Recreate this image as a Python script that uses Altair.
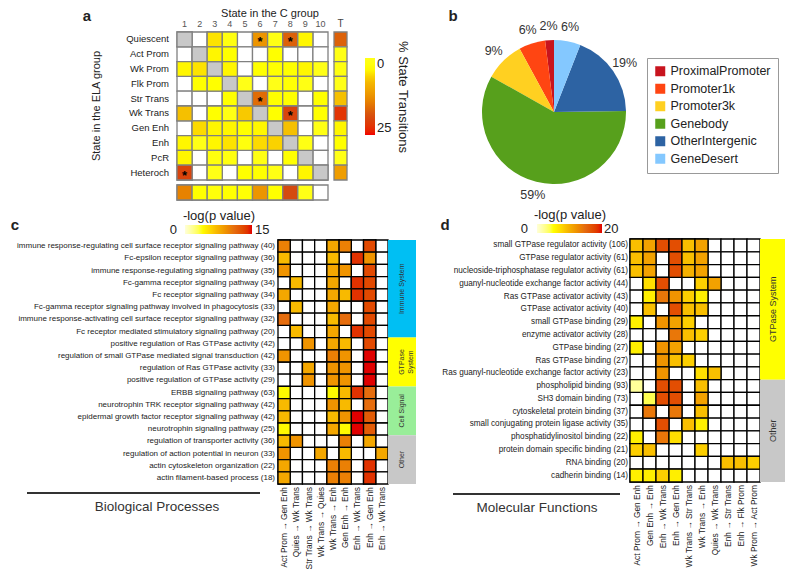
import altair as alt
import pandas as pd

FONT = "Liberation Sans"

# ---------------- Panel a : state transitions ----------------
a_rows = ["Quiescent", "Act Prom", "Wk Prom", "Flk Prom", "Str Trans",
          "Wk Trans", "Gen Enh", "Enh", "PcR", "Heteroch"]
a_cols = [str(i) for i in range(1, 11)]
a_vals = [
    [None, None, 5, 1.5, None, 12, 1, 17, 4, None],
    [None, None, 4, 3.5, None, None, 3.5, None, None, None],
    [4, 5, None, 4, None, 3.5, 3.5, 3.5, 4, 0.5],
    [None, 3.5, 3.5, None, 0.4, None, 0.4, 3, 1, None],
    [None, None, None, 3.5, None, 16, 3.5, 3.5, None, 3.5],
    [7, None, 3.5, 1, 6.5, None, 3.5, 20, None, 3.5],
    [None, 5.5, 4, 4, 3.5, 4, None, 7, None, 1],
    [4, 0.5, 4, 5, 2, 5.5, 6, None, 1, None],
    [4, None, 2, 1.5, None, 1, None, 3.5, None, None],
    [20, None, 0.5, None, 3.5, 3.5, 1, None, 4, None],
]
a_total = [17, 1, 1.5, 0.3, 7, 22, 4, 3.5, 0.5, 11]
a_bottom = [14, 3.5, 2.5, 3.5, 3, 12, 3.5, 19, 0.5, None]
a_stars = [("Quiescent", "6"), ("Quiescent", "8"), ("Str Trans", "6"),
           ("Wk Trans", "8"), ("Heteroch", "1")]

# ---------------- Panel b : pie ----------------
pie_cats = ["ProximalPromoter", "Promoter1k", "Promoter3k", "Genebody",
            "OtherIntergenic", "GeneDesert"]
pie_pct = [2, 6, 9, 59, 19, 6]
pie_colors = ["#c8141e", "#ff4512", "#ffd021", "#57a01c", "#2d63a3", "#84c8ff"]

# ---------------- Panel c : biological processes ----------------
c_names = [
    "immune response-regulating cell surface receptor signaling pathway",
    "Fc-epsilon receptor signaling pathway",
    "immune response-regulating signaling pathway",
    "Fc-gamma receptor signaling pathway",
    "Fc receptor signaling pathway",
    "Fc-gamma receptor signaling pathway involved in phagocytosis",
    "immune response-activating cell surface receptor signaling pathway",
    "Fc receptor mediated stimulatory signaling pathway",
    "positive regulation of Ras GTPase activity",
    "regulation of small GTPase mediated signal transduction",
    "regulation of Ras GTPase activity",
    "positive regulation of GTPase activity",
    "ERBB signaling pathway",
    "neurotrophin TRK receptor signaling pathway",
    "epidermal growth factor receptor signaling pathway",
    "neurotrophin signaling pathway",
    "regulation of transporter activity",
    "regulation of action potential in neuron",
    "actin cytoskeleton organization",
    "actin filament-based process",
]
c_counts = [40, 36, 35, 34, 34, 33, 32, 20, 42, 42, 33, 29, 63, 42, 42, 25, 36, 33, 22, 18]
c_cols = ["Act Prom \u2192 Gen Enh", "Quies \u2192 Wk Trans", "Str Trans \u2192 Wk Trans",
          "Wk Trans \u2192 Quies", "Wk Trans \u2192 Enh", "Gen Enh \u2192 Enh",
          "Enh \u2192 Wk Trans", "Enh \u2192 Gen Enh", "Enh \u2192 Wk Trans"]
c_vals = [
    [10, None, None, None, 8, 10, None, 13, None],
    [7, None, None, None, 7, None, 14, 9, None],
    [9, None, None, None, 8, 9, None, 13, None],
    [None, 7, None, None, 8, None, 14, 13, None],
    [8, None, None, None, 8, 7, 14, 13, None],
    [None, 7, None, None, 8, None, None, 13, None],
    [11, None, None, None, 7, 11, None, 13, None],
    [None, 7, None, None, 8, None, 14, 13, None],
    [None, None, 9, None, 8, 7, None, 13, None],
    [9, None, None, None, 10, 9, None, 15, None],
    [None, None, 8, None, 9, 9, None, 15, None],
    [None, None, 9, None, 9, 9, None, 15, None],
    [4, None, None, None, 4, 7, 14, 11, None],
    [7, None, None, None, 9, 7, None, 11, None],
    [7, None, None, None, 7, 9, 15, 12, None],
    [4, None, None, None, 8, 4, 15, 12, None],
    [7, 9, None, None, None, 10, None, 8, None],
    [9, None, None, 8, None, 7, None, None, 8],
    [8, None, None, None, 10, 10, None, 14, None],
    [8, None, None, None, 10, 10, None, 14, None],
]
c_groups = ["Immune System", "GTPase\nSystem", "Cell Signal", "Other"]
c_group_sizes = [8, 4, 4, 4]
c_group_colors = ["#00bff3", "#ffff00", "#99ee99", "#c8c8c8"]

# ---------------- Panel d : molecular functions ----------------
d_names = [
    "small GTPase regulator activity", "GTPase regulator activity",
    "nucleoside-triphosphatase regulator activity",
    "guanyl-nucleotide exchange factor activity", "Ras GTPase activator activity",
    "GTPase activator activity", "small GTPase binding", "enzyme activator activity",
    "GTPase binding", "Ras GTPase binding",
    "Ras guanyl-nucleotide exchange factor activity", "phospholipid binding",
    "SH3 domain binding", "cytoskeletal protein binding",
    "small conjugating protein ligase activity", "phosphatidylinositol binding",
    "protein domain specific binding", "RNA binding", "cadherin binding",
]
d_counts = [106, 61, 61, 44, 43, 40, 29, 28, 27, 27, 23, 93, 73, 37, 35, 22, 21, 20, 14]
d_cols = ["Act Prom \u2192 Gen Enh", "Gen Enh \u2192 Enh", "Enh \u2192 Wk Trans",
          "Enh \u2192 Gen Enh", "Wk Trans \u2192 Str Trans", "Wk Trans \u2192 Enh",
          "Quies \u2192 Wk Trans", "Enh \u2192 Str Trans", "Enh \u2192 Flk Prom",
          "Wk Prom \u2192 Act Prom"]
d_vals = [
    [9, 11, 17, 17, 9, 11, None, None, None, None],
    [9, 11, None, 17, 9, 11, None, None, None, None],
    [9, 11, None, 17, 10, 11, None, None, None, None],
    [None, 7, 17, None, None, 8, 11, None, None, None],
    [None, 6, 14, 12, 8, 6, None, None, None, None],
    [None, 9, None, 17, 9, 9, None, None, None, None],
    [6, None, 12, 11, 8, None, None, None, None, None],
    [None, None, None, 14, 9, 8, None, None, None, None],
    [6, None, 12, 11, None, None, None, None, None, None],
    [None, None, 12, 9, 8, None, None, None, None, None],
    [None, None, 12, None, None, 7, 9, None, None, None],
    [2, None, 17, 17, None, 9, None, None, None, None],
    [None, 4, 17, 17, None, 11, None, None, None, None],
    [None, 14, None, 14, None, 9, None, None, None, None],
    [None, None, 17, None, 9, 6, None, None, None, None],
    [6, None, 14, 7, None, None, None, None, None, None],
    [8, 9, None, None, None, 8, None, None, None, None],
    [None, None, None, None, None, None, None, 9, 9, 8],
    [6, 6, 8, 6, None, None, None, None, None, None],
]
d_groups = ["GTPase System", "Other"]
d_group_sizes = [11, 8]
d_group_colors = ["#ffff00", "#c8c8c8"]


def band(domain, rng):
    return alt.Scale(domain=domain, range=rng, paddingInner=0, paddingOuter=0)


def txt(s, x, y, size=12, weight="normal", align="center", angle=0, color="#222",
        baseline="middle"):
    kw = dict(fontSize=size, fontWeight=weight, align=align, baseline=baseline,
              color=color, font=FONT)
    if angle:
        kw["angle"] = angle
    return alt.Chart(pd.DataFrame({"t": [s]})).mark_text(**kw).encode(
        text="t:N", x=alt.value(x), y=alt.value(y))


# ======== panel a layers ========
# colour keyed on the negated value so the vertical legend runs 0 (top) -> 25 (bottom)
a_scale = alt.Scale(domain=[-25, -19, -13, -7, -3.5, 0],
                    range=["#f00000", "#d44a10", "#ea8c00", "#f5c000", "#ffff00", "#ffffff"])
a_x = [169, 320]
a_y = [24, 172]
cells = []
for i, r in enumerate(a_rows):
    for j, c in enumerate(a_cols):
        cells.append({"row": r, "col": c, "v": a_vals[i][j], "self": i == j,
                      "star": (r, c) in a_stars})
a_df = pd.DataFrame(cells)
ax = alt.X("col:N", scale=band(a_cols, a_x), axis=None)
ay = alt.Y("row:N", scale=band(a_rows, a_y), axis=None)
a_stroke = dict(stroke="#808080", strokeWidth=1.3)
a_color_legend = alt.Legend(
    orient="none", legendX=357, legendY=50, direction="vertical",
    gradientLength=77, gradientThickness=10, values=[-25, 0],
    labelExpr="'' + abs(datum.value)",
    title="% State Transitions", titleOrient="right", titleFontSize=13,
    titleFontWeight="normal", labelFontSize=13, titleColor="#222", labelColor="#222")
a_main = alt.layer(
    alt.Chart(a_df).mark_rect(fill="white", **a_stroke).encode(x=ax, y=ay),
    alt.Chart(a_df).transform_filter("datum.self").mark_rect(fill="#c8c8c8", **a_stroke).encode(x=ax, y=ay),
    alt.Chart(a_df).transform_filter("isValid(datum.v)").transform_calculate(
        nv="-datum.v").mark_rect(**a_stroke).encode(
        x=ax, y=ay, color=alt.Color("nv:Q", scale=a_scale, legend=a_color_legend)),
    alt.Chart(a_df).transform_filter("datum.star").mark_text(
        text="*", fontSize=13, fontWeight="bold", color="black", dy=3).encode(x=ax, y=ay),
    alt.Chart(pd.DataFrame({"row": a_rows})).mark_text(
        align="right", fontSize=9.5, color="#222", font=FONT).encode(
        y=ay, x=alt.value(161), text="row:N"),
    alt.Chart(pd.DataFrame({"col": a_cols})).mark_text(
        fontSize=9, color="#555", font=FONT).encode(x=ax, y=alt.value(16), text="col:N"),
)
t_df = pd.DataFrame({"row": a_rows, "v": a_total, "k": ["T"] * len(a_rows)})
tx = alt.X("k:N", scale=band(["T"], [326, 339]), axis=None)
a_T = alt.layer(
    alt.Chart(t_df).transform_calculate(nv="-datum.v").mark_rect(**a_stroke).encode(
        x=tx, y=ay, color=alt.Color("nv:Q", scale=a_scale, legend=None)),
    alt.Chart(pd.DataFrame({"k": ["T"]})).mark_text(fontSize=10, color="#444", font=FONT).encode(
        x=tx, y=alt.value(16), text="k:N"),
)
b_df = pd.DataFrame({"col": a_cols, "v": a_bottom, "r": ["all"] * len(a_cols)})
by = alt.Y("r:N", scale=band(["all"], [177, 192]), axis=None)
a_B = alt.layer(
    alt.Chart(b_df).mark_rect(fill="white", **a_stroke).encode(x=ax, y=by),
    alt.Chart(b_df).transform_filter("isValid(datum.v)").transform_calculate(
        nv="-datum.v").mark_rect(**a_stroke).encode(
        x=ax, y=by, color=alt.Color("nv:Q", scale=a_scale, legend=None)),
)

# ======== panel b ========
pie_df = pd.DataFrame({"cat": pie_cats, "pct": pie_pct,
                       "ord": list(range(len(pie_cats) - 1, -1, -1))})
pie_theta = alt.Theta("pct:Q", stack=True)
pie = alt.layer(
    alt.Chart(pie_df).mark_arc(outerRadius=72).encode(
        theta=pie_theta, order=alt.Order("ord:Q"),
        color=alt.Color("cat:N", scale=alt.Scale(domain=pie_cats, range=pie_colors),
                        legend=alt.Legend(orient="none", legendX=639, legendY=50, title=None,
                                          symbolType="square", symbolSize=100,
                                          symbolStrokeWidth=0, labelFontSize=12.5,
                                          labelColor="#222", strokeColor="#999",
                                          padding=7, rowPadding=4.5, fillColor="white")),
        x=alt.value(546), y=alt.value(104)),
    alt.Chart(pie_df).transform_calculate(lab="datum.pct + '%'").mark_text(
        radius=86, fontSize=12.5, color="#333", font=FONT).encode(
        theta=pie_theta, order=alt.Order("ord:Q"), text="lab:N",
        x=alt.value(546), y=alt.value(104)),
)


# ======== panels c, d ========
def heat_panel(names, counts, cols, vals, xr, yr, label_x, lab_fs, col_fs, cscale, legend):
    terms = [f"{n} ({k})" for n, k in zip(names, counts)]
    ids = [f"k{j}" for j in range(len(cols))]
    rows = []
    for i, t in enumerate(terms):
        for j, c in enumerate(ids):
            rows.append({"term": t, "col": c, "v": vals[i][j]})
    df = pd.DataFrame(rows)
    xs = alt.X("col:N", scale=band(ids, xr), axis=None)
    ys = alt.Y("term:N", scale=band(terms, yr), axis=None)
    st = dict(stroke="black", strokeWidth=1.3)
    return alt.layer(
        alt.Chart(df).mark_rect(fill="white", **st).encode(x=xs, y=ys),
        alt.Chart(df).transform_filter("isValid(datum.v)").mark_rect(**st).encode(
            x=xs, y=ys, color=alt.Color("v:Q", scale=cscale, legend=legend)),
        alt.Chart(pd.DataFrame({"term": terms})).mark_text(
            align="right", fontSize=lab_fs, color="#222", font=FONT).encode(
            y=ys, x=alt.value(label_x), text="term:N"),
        alt.Chart(pd.DataFrame({"col": ids, "lab": cols})).mark_text(
            align="right", angle=270, fontSize=col_fs, color="#222", font=FONT).encode(
            x=xs, y=alt.value(yr[1] + 3), text="lab:N"),
    )


def cat_panel(groups, sizes, colors, xr, yr, fs):
    starts, s = [], 0
    for n in sizes:
        starts.append(s)
        s += n
    df = pd.DataFrame({"g": groups, "start": starts,
                       "end": [a + b for a, b in zip(starts, sizes)],
                       "k": ["cat"] * len(groups)})
    df["mid"] = (df["start"] + df["end"]) / 2
    xs = alt.X("k:N", scale=band(["cat"], xr), axis=None)
    ysc = alt.Scale(domain=[0, s], range=yr, nice=False, zero=False)
    return alt.layer(
        alt.Chart(df).mark_rect().encode(
            x=xs, y=alt.Y("start:Q", scale=ysc, axis=None), y2="end:Q",
            color=alt.Color("g:N", scale=alt.Scale(domain=groups, range=colors), legend=None)),
        alt.Chart(df).mark_text(angle=270, fontSize=fs, color="#333", lineBreak="\n",
                                font=FONT).encode(
            x=xs, y=alt.Y("mid:Q", scale=ysc, axis=None), text="g:N"),
    )


def grad_legend(x, y, length):
    return alt.Legend(
        orient="none", legendX=x, legendY=y, direction="horizontal",
        gradientLength=length, gradientThickness=9, labelExpr="''", labelOpacity=0,
        title="-log(p value)", titleFontSize=13, titleFontWeight="normal",
        titleColor="#222", titleAnchor="middle", titlePadding=2)


c_dom = [0, 3.75, 7.5, 11.25, 15]
d_dom = [0, 5, 10, 15, 20]
heat_colors = ["#ffffd8", "#ffff00", "#f5b000", "#e46810", "#e00000"]
c_scale = alt.Scale(domain=c_dom, range=heat_colors)
d_scale = alt.Scale(domain=d_dom, range=heat_colors)

panel_c = heat_panel(c_names, c_counts, c_cols, c_vals, [270, 380], [232, 476], 267,
                     8, 8.4, c_scale, grad_legend(175, 202, 67))
cat_c = cat_panel(c_groups, c_group_sizes, c_group_colors, [380, 408], [232, 476], 7)
panel_d = heat_panel(d_names, d_counts, d_cols, d_vals, [622, 752], [231, 474], 620,
                     8.2, 8.4, d_scale, grad_legend(526, 201, 65))
cat_d = cat_panel(d_groups, d_group_sizes, d_group_colors, [752, 777], [231, 474], 9)


def hline(x1, x2, y):
    return alt.Chart(pd.DataFrame({"t": [0]})).mark_rule(color="#333", strokeWidth=2).encode(
        x=alt.value(x1), x2=alt.value(x2), y=alt.value(y))


annotations = [
    txt("a", 79, 8, 15, "bold"),
    txt("b", 445, 8, 15, "bold"),
    txt("c", 7, 217, 15, "bold"),
    txt("d", 437, 217, 15, "bold"),
    txt("State in the C group", 262, 6, 11),
    txt("State in the ELA group", 89, 98, 11, angle=270),
    # end labels of the two p-value colour bars
    txt(str(c_dom[0]), 169, 222, 13, align="right"),
    txt(str(c_dom[-1]), 247, 222, 13, align="left"),
    txt(str(d_dom[0]), 520, 221, 13, align="right"),
    txt(str(d_dom[-1]), 596, 221, 13, align="left"),
    hline(19, 252, 485),
    txt("Biological Processes", 149, 499, 13.5, color="#333"),
    hline(445, 612, 486),
    txt("Molecular Functions", 529, 500, 13.5, color="#333"),
]

chart = alt.layer(
    a_main, a_T, a_B, pie, panel_c, cat_c, panel_d, cat_d, *annotations
).resolve_scale(
    x="independent", y="independent", color="independent", theta="independent"
).properties(
    width=777, height=561, padding=0,
    autosize=alt.AutoSizeParams(type="none"),
).configure_view(stroke=None).configure_legend(
    labelFont=FONT, titleFont=FONT
).configure_text(font=FONT)

chart.save("out.html", embed_options={"renderer": "svg", "actions": False})
